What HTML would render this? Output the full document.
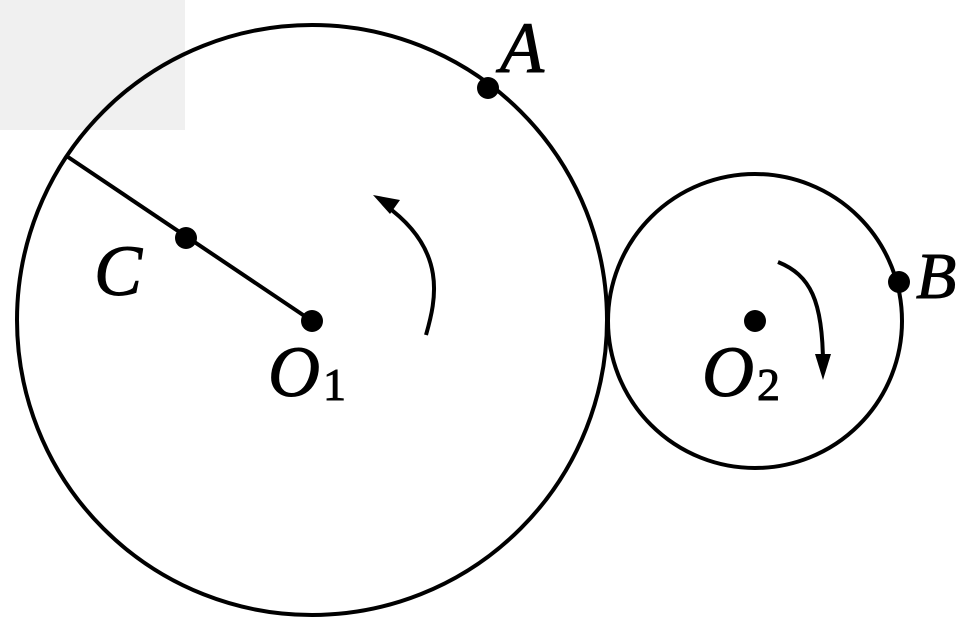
<!DOCTYPE html>
<html><head><meta charset="utf-8"><style>
html,body{margin:0;padding:0;background:#fff;}
svg{display:block;}
text{font-family:"Liberation Serif",serif;fill:#000;stroke:#000;stroke-width:1;}
</style></head><body>
<svg width="977" height="629" viewBox="0 0 977 629" xmlns="http://www.w3.org/2000/svg">
<rect x="0" y="0" width="185" height="130" fill="#f0f0f0"/>
<circle cx="312" cy="320" r="295" fill="none" stroke="#000" stroke-width="4"/>
<circle cx="755" cy="321" r="147" fill="none" stroke="#000" stroke-width="4"/>
<line x1="68" y1="157" x2="312" y2="321" stroke="#000" stroke-width="4"/>
<circle cx="312" cy="321" r="11" fill="#000"/>
<circle cx="186" cy="238" r="11" fill="#000"/>
<circle cx="488" cy="88" r="11" fill="#000"/>
<circle cx="899" cy="282" r="11" fill="#000"/>
<circle cx="755" cy="321" r="11" fill="#000"/>
<path d="M426,335 C436,300 448,250 385,205" fill="none" stroke="#000" stroke-width="4"/>
<polygon points="373,195 400,200 390,214" fill="#000"/>
<path d="M778,262 C810,275 823,300 823,365" fill="none" stroke="#000" stroke-width="4"/>
<polygon points="823,380 815,354 831,354" fill="#000"/>
<text x="500" y="72" font-size="72" font-style="italic">A</text>
<text x="94" y="295" font-size="72" font-style="italic">C</text>
<text x="916" y="298" font-size="66" font-style="italic">B</text>
<text x="268" y="396" font-size="72" font-style="italic">O</text>
<text x="323" y="400" font-size="46">1</text>
<text x="702" y="396" font-size="72" font-style="italic">O</text>
<text x="757" y="400" font-size="46">2</text>
</svg>
</body></html>
